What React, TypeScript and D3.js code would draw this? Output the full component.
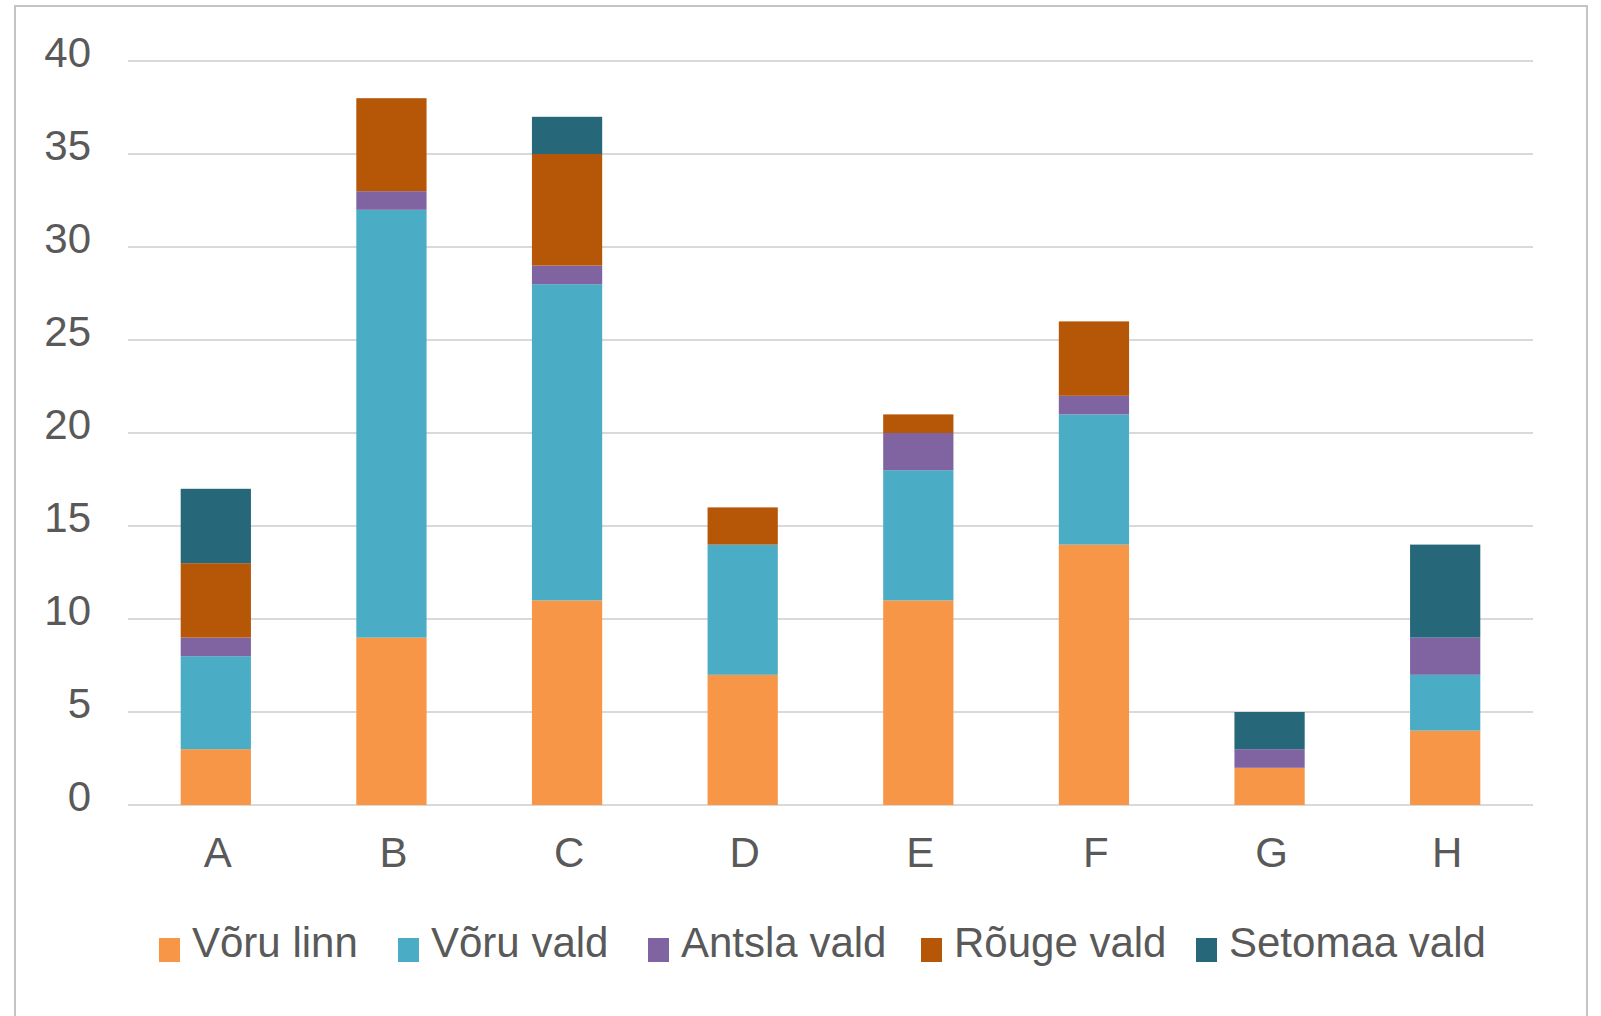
import React, { useEffect, useRef } from "react";
import * as d3 from "d3";

const categories = ["A", "B", "C", "D", "E", "F", "G", "H"];
const seriesNames = ["Võru linn", "Võru vald", "Antsla vald", "Rõuge vald", "Setomaa vald"];
const voruLinn = [3, 9, 11, 7, 11, 14, 2, 4];
const voruVald = [5, 23, 17, 7, 7, 7, 0, 3];
const antslaVald = [1, 1, 1, 0, 2, 1, 1, 2];
const rougeVald = [4, 5, 6, 2, 1, 4, 0, 0];
const setomaaVald = [4, 0, 2, 0, 0, 0, 2, 5];
const yTicks = [0, 5, 10, 15, 20, 25, 30, 35, 40];

const colors = ["#F79646", "#4BACC6", "#8064A2", "#B65708", "#26687A"];
const legendX = [159, 398, 648, 921, 1196];

const W = 1601;
const H = 1016;
const FONT = "'Liberation Sans', Arial, Helvetica, sans-serif";
const TEXT = "#595959";

export default function App() {
  const ref = useRef<SVGSVGElement | null>(null);

  useEffect(() => {
    document.body.style.margin = "0";
    document.body.style.overflow = "hidden";
    const svg = d3.select(ref.current);
    svg.selectAll("*").remove();

    const values = [voruLinn, voruVald, antslaVald, rougeVald, setomaaVald];
    const rows = categories.map((c, i) => {
      const r: any = { cat: c };
      seriesNames.forEach((s, j) => (r[s] = values[j][i]));
      return r;
    });
    const stacked = d3.stack<any>().keys(seriesNames)(rows);

    const x = d3
      .scaleBand<string>()
      .domain(categories)
      .range([128, 1533])
      .paddingInner(0.6)
      .paddingOuter(0.3);
    const y = d3.scaleLinear().domain([0, 40]).range([805, 61]);

    svg
      .append("rect")
      .attr("x", 15)
      .attr("y", 6)
      .attr("width", 1572)
      .attr("height", 1040)
      .attr("fill", "#fff")
      .attr("stroke", "#c4c4c4")
      .attr("stroke-width", 2);

    const g = svg.append("g");
    g.selectAll("line.grid")
      .data(yTicks)
      .join("line")
      .attr("x1", 128)
      .attr("x2", 1533)
      .attr("y1", (d) => y(d))
      .attr("y2", (d) => y(d))
      .attr("stroke", "#d9d9d9")
      .attr("stroke-width", 2);

    g.selectAll("text.ytick")
      .data(yTicks)
      .join("text")
      .attr("x", 91)
      .attr("y", (d) => y(d) + 5.5)
      .attr("text-anchor", "end")
      .attr("font-family", FONT)
      .attr("font-size", 42)
      .attr("fill", TEXT)
      .text((d) => String(d));

    stacked.forEach((layer, j) => {
      g.append("g")
        .attr("fill", colors[j])
        .selectAll("rect")
        .data(layer)
        .join("rect")
        .attr("x", (d: any) => x(d.data.cat)!)
        .attr("width", x.bandwidth())
        .attr("y", (d: any) => y(d[1]))
        .attr("height", (d: any) => y(d[0]) - y(d[1]));
    });

    g.selectAll("text.xcat")
      .data(categories)
      .join("text")
      .attr("x", (d) => x(d)! + x.bandwidth() / 2 + 2)
      .attr("y", 867)
      .attr("text-anchor", "middle")
      .attr("font-family", FONT)
      .attr("font-size", 42)
      .attr("fill", TEXT)
      .text((d) => d);

    const lg = svg.append("g");
    seriesNames.forEach((s, j) => {
      const lx = legendX[j];
      lg.append("rect")
        .attr("x", lx)
        .attr("y", 938)
        .attr("width", 21)
        .attr("height", 24)
        .attr("fill", colors[j]);
      lg.append("text")
        .attr("x", lx + 33)
        .attr("y", 957)
        .attr("font-family", FONT)
        .attr("font-size", 42)
        .attr("fill", TEXT)
        .text(s);
    });
  }, []);

  return (
    <svg
      ref={ref}
      width={W}
      height={H}
      style={{ position: "absolute", left: 0, top: 0, display: "block", background: "#fff" }}
    />
  );
}
